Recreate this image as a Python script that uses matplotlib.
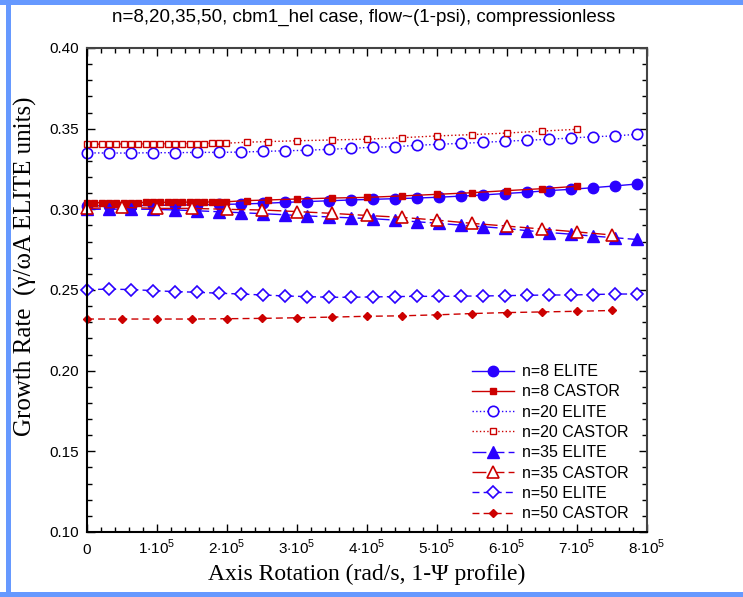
import numpy as np
import matplotlib
matplotlib.use('Agg')
import matplotlib.pyplot as plt
from matplotlib.patches import Rectangle
from matplotlib.ticker import MultipleLocator, FormatStrFormatter

plt.rcParams['font.family'] = ['Liberation Sans', 'DejaVu Sans']
plt.rcParams['mathtext.fontset'] = 'custom'
plt.rcParams['mathtext.rm'] = 'Liberation Sans'

# rotation values, units of 1e5 rad/s
rot_elite = [0.000, 0.314, 0.628, 0.942, 1.257, 1.571, 1.885, 2.199, 2.513,
             2.827, 3.142, 3.456, 3.770, 4.084, 4.398, 4.712, 5.027, 5.341,
             5.655, 5.969, 6.283, 6.597, 6.912, 7.226, 7.540, 7.854]
rot_castor_fine = [0.000, 0.105, 0.209, 0.314, 0.419, 0.524, 0.628, 0.733,
                   0.838, 0.942, 1.047, 1.152, 1.257, 1.361, 1.466, 1.571,
                   1.676, 1.780, 1.885, 1.990, 2.280, 2.590, 3.000, 3.500,
                   4.000, 4.500, 5.000, 5.500, 6.000, 6.500, 7.000]
rot_castor_coarse = [0.0, 0.5, 1.0, 1.5, 2.0, 2.5, 3.0, 3.5, 4.0, 4.5, 5.0,
                     5.5, 6.0, 6.5, 7.0, 7.5]

# growth rates
n8_elite = [0.3022, 0.3022, 0.3023, 0.3024, 0.3026, 0.3028, 0.3030, 0.3033,
            0.3037, 0.3043, 0.3048, 0.3053, 0.3058, 0.3062, 0.3066, 0.3070,
            0.3075, 0.3082, 0.3089, 0.3098, 0.3106, 0.3116, 0.3124, 0.3134,
            0.3145, 0.3157]
n8_castor = [0.3041, 0.3041, 0.3041, 0.3041, 0.3042, 0.3042, 0.3042, 0.3042,
             0.3043, 0.3043, 0.3043, 0.3044, 0.3044, 0.3044, 0.3045, 0.3045,
             0.3045, 0.3046, 0.3046, 0.3047, 0.3054, 0.3058, 0.3064, 0.3070,
             0.3074, 0.3083, 0.3093, 0.3103, 0.3116, 0.3128, 0.3143]
n20_elite = [0.3350, 0.3349, 0.3349, 0.3351, 0.3351, 0.3353, 0.3353, 0.3355,
             0.3359, 0.3363, 0.3366, 0.3372, 0.3378, 0.3385, 0.3388, 0.3397,
             0.3403, 0.3409, 0.3415, 0.3422, 0.3428, 0.3434, 0.3442, 0.3450,
             0.3455, 0.3465]
n20_castor = [0.3404, 0.3404, 0.3404, 0.3404, 0.3405, 0.3405, 0.3405, 0.3405,
              0.3406, 0.3406, 0.3406, 0.3407, 0.3407, 0.3407, 0.3408, 0.3408,
              0.3408, 0.3409, 0.3409, 0.3410, 0.3416, 0.3420, 0.3425, 0.3430,
              0.3435, 0.3444, 0.3455, 0.3463, 0.3473, 0.3485, 0.3496]
n35_elite = [0.3000, 0.3001, 0.3001, 0.3000, 0.2996, 0.2991, 0.2985, 0.2979,
             0.2973, 0.2966, 0.2959, 0.2953, 0.2947, 0.2942, 0.2933, 0.2923,
             0.2913, 0.2902, 0.2892, 0.2882, 0.2868, 0.2856, 0.2846, 0.2834,
             0.2824, 0.2813]
n35_castor = [0.3006, 0.3012, 0.3006, 0.3006, 0.3000, 0.2996, 0.2986, 0.2975,
              0.2962, 0.2950, 0.2933, 0.2913, 0.2896, 0.2878, 0.2860, 0.2841]
n50_elite = [0.2503, 0.2505, 0.2503, 0.2496, 0.2490, 0.2486, 0.2480, 0.2475,
             0.2469, 0.2463, 0.2459, 0.2455, 0.2455, 0.2457, 0.2459, 0.2461,
             0.2460, 0.2462, 0.2463, 0.2465, 0.2467, 0.2469, 0.2469, 0.2472,
             0.2475, 0.2475]
n50_castor = [0.2320, 0.2320, 0.2320, 0.2320, 0.2322, 0.2324, 0.2328, 0.2332,
              0.2337, 0.2340, 0.2346, 0.2354, 0.2360, 0.2364, 0.2368, 0.2373]

xticks = [0, 1, 2, 3, 4, 5, 6, 7, 8]
xticklabels = [r'$0$'] + [r'$%d{\cdot}10^5$' % k for k in xticks[1:]]

blue = '#2a00ff'
red = '#cc0000'

fig = plt.figure(figsize=(7.43, 5.97), dpi=100)
ax = fig.add_axes([0.1171, 0.1089, 0.7537, 0.8107])

xe = np.array(rot_elite) * 1e5
xcf = np.array(rot_castor_fine) * 1e5
xcc = np.array(rot_castor_coarse) * 1e5

lw = 1.0
ax.plot(xe, n8_elite, '-', color=blue, lw=lw, marker='o', ms=7.5,
        label='n=8 ELITE', clip_on=False)
ax.plot(xcf, n8_castor, '-', color=red, lw=lw, marker='s', ms=4.2,
        label='n=8 CASTOR', clip_on=False)
ax.plot(xe, n20_elite, ':', color=blue, lw=lw, marker='o', ms=7.5, mfc='white',
        mew=1.2, label='n=20 ELITE', clip_on=False)
ax.plot(xcf, n20_castor, ':', color=red, lw=lw, marker='s', ms=4.2, mfc='white',
        mew=1.0, label='n=20 CASTOR', clip_on=False)
ax.plot(xe, n35_elite, color=blue, lw=lw, dashes=(10, 3), marker='^', ms=8,
        label='n=35 ELITE', clip_on=False)
ax.plot(xcc, n35_castor, color=red, lw=lw, dashes=(10, 3), marker='^', ms=8,
        mfc='white', mew=1.2, label='n=35 CASTOR', clip_on=False)
ax.plot(xe, n50_elite, color=blue, lw=lw, dashes=(5, 3), marker='D', ms=6.5,
        mfc='white', mew=1.2, label='n=50 ELITE', clip_on=False)
ax.plot(xcc, n50_castor, color=red, lw=lw, dashes=(5, 3), marker='D', ms=4.5,
        label='n=50 CASTOR', clip_on=False)

ax.set_xlim(0, 8e5)
ax.set_ylim(0.10, 0.40)
ax.set_xticks(np.array(xticks) * 1e5)
ax.set_xticklabels(xticklabels)
ax.xaxis.set_minor_locator(MultipleLocator(2e4))
ax.yaxis.set_major_locator(MultipleLocator(0.05))
ax.yaxis.set_minor_locator(MultipleLocator(0.01))
ax.yaxis.set_major_formatter(FormatStrFormatter('%.2f'))
ax.tick_params(which='both', direction='in', top=True, right=True,
               labelsize=11, width=1.0)
ax.tick_params(which='major', length=6, pad=6)
ax.tick_params(axis='x', which='major', pad=15.5)
ax.tick_params(which='minor', length=3.5)
# put all x tick labels on one baseline
for lab in ax.get_xticklabels():
    lab.set_verticalalignment('baseline')
for side in ['left', 'bottom']:
    ax.spines[side].set_linewidth(1.5)
for side in ['right', 'top']:
    ax.spines[side].set_linewidth(1.5)
    ax.spines[side].set_color('#444444')

ax.set_xlabel('Axis Rotation (rad/s, 1-\u03a8 profile)', family='Liberation Serif',
              fontsize=17, labelpad=5)
ax.set_ylabel('Growth Rate  (\u03b3/\u03c9A ELITE units)', family='Liberation Serif',
              fontsize=18)
ax.yaxis.set_label_coords(-0.089, 0.55)

fig.text(0.49, 0.9715, 'n=8,20,35,50, cbm1_hel case, flow~(1-psi), compressionless',
         ha='center', va='center', fontsize=13.5)

ax.legend(loc='lower right', bbox_to_anchor=(0.982, 0.006), frameon=False,
          fontsize=11.5, handlelength=2.6, handletextpad=0.55, labelspacing=0.33,
          borderpad=0)

# blue frame around the picture
edge = '#6699ff'
fig.add_artist(Rectangle((6 / 743, 0), 5 / 743, 1, transform=fig.transFigure,
                         color=edge, lw=0))
fig.add_artist(Rectangle((0, 1 - 5 / 597), 1, 5 / 597, transform=fig.transFigure,
                         color=edge, lw=0))
fig.add_artist(Rectangle((0, 0), 1, 5 / 597, transform=fig.transFigure,
                         color=edge, lw=0))

fig.savefig('out.png', dpi=100)
